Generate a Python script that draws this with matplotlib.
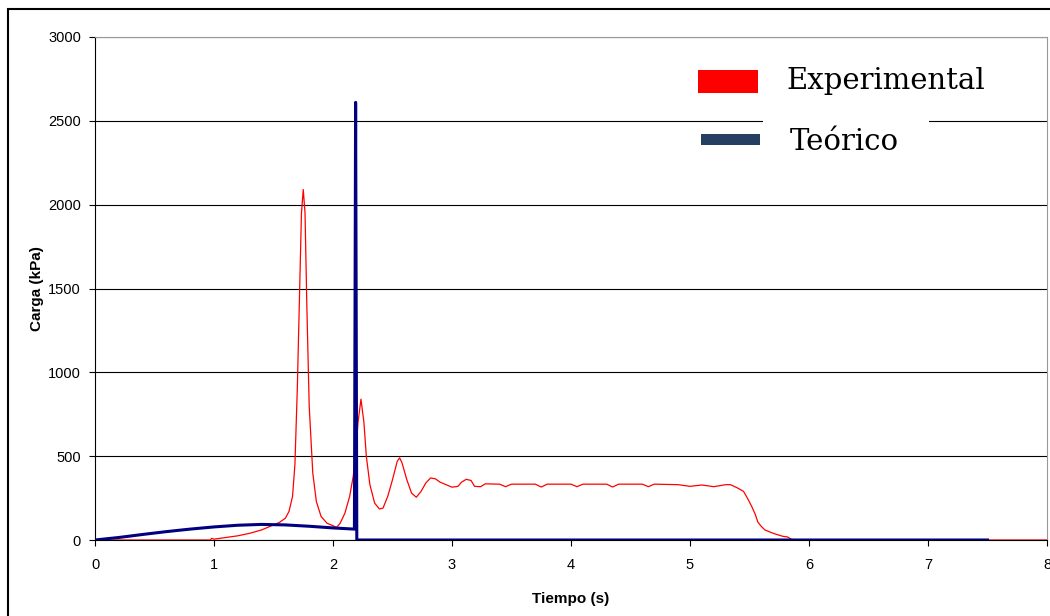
import matplotlib.pyplot as plt
import matplotlib.patches as mpatches

# Experimental (red)
t_exp = [0.0, 0.97, 0.98, 1.0, 1.05, 1.1, 1.2, 1.3, 1.4, 1.45, 1.5, 1.55, 1.6, 1.63, 1.66, 1.68,
         1.70, 1.72, 1.735, 1.75, 1.765, 1.78, 1.80, 1.83, 1.86, 1.9, 1.95, 2.0, 2.03, 2.06, 2.1,
         2.14, 2.17, 2.19, 2.21, 2.235, 2.26, 2.28, 2.31, 2.35, 2.39, 2.42, 2.46, 2.5, 2.54, 2.56,
         2.58, 2.62, 2.66, 2.70, 2.74, 2.78, 2.82, 2.86, 2.9, 2.95, 3.0, 3.05, 3.08, 3.12, 3.16,
         3.19, 3.24, 3.28, 3.4, 3.45, 3.5, 3.7, 3.75, 3.8, 4.0, 4.05, 4.1, 4.3, 4.35, 4.4, 4.6,
         4.65, 4.7, 4.9, 5.0, 5.1, 5.2, 5.3, 5.34, 5.40, 5.45, 5.49, 5.52, 5.55, 5.57, 5.6, 5.63,
         5.68, 5.72, 5.78, 5.82, 5.85, 5.88, 8.0]
v_exp = [0, 0, 10, 5, 10, 15, 25, 40, 60, 75, 90, 105, 130, 170, 260, 450,
         900, 1500, 1950, 2090, 1950, 1400, 800, 400, 230, 140, 100, 85, 75, 100, 160,
         260, 380, 500, 700, 840, 700, 500, 330, 220, 185, 190, 260, 360, 470, 490,
         460, 360, 280, 255, 290, 340, 370, 365, 345, 330, 315, 320, 345, 362, 355,
         320, 318, 335, 333, 318, 333, 333, 316, 333, 333, 318, 333, 333, 316, 333, 333,
         318, 333, 330, 320, 328, 318, 330, 330, 310, 290, 240, 198, 150, 107, 80, 60,
         45, 35, 22, 18, 5, 0, 0]

# Teórico (blue)
t_teo = [0.0, 0.2, 0.4, 0.6, 0.8, 1.0, 1.2, 1.4, 1.6, 1.8, 2.0, 2.18, 2.19, 2.2, 7.5]
v_teo = [0, 15, 33, 50, 65, 78, 88, 93, 90, 82, 72, 65, 2610, 0, 0]

plt.rcParams['font.family'] = ['Liberation Sans', 'DejaVu Sans']

fig = plt.figure(figsize=(10.5, 6.16), dpi=100)
ax = fig.add_axes([95 / 1050, 1 - 540 / 616, 952 / 1050, 503 / 616])

ax.plot(t_exp, v_exp, color='#ff0000', lw=0.9, zorder=3)
ax.plot(t_teo, v_teo, color='#000080', lw=2.2, zorder=4)

ax.set_xlim(0, 8)
ax.set_ylim(0, 3000)
ax.set_xticks(range(0, 9))
ax.set_yticks(range(0, 3001, 500))
ax.yaxis.grid(True, color='black', lw=0.8)
ax.set_axisbelow(True)
ax.tick_params(direction='out', length=4, width=0.8, labelsize=10.5, colors='black')
ax.tick_params(axis='x', pad=9)
ax.tick_params(axis='y', pad=6)
for s in ('top', 'right'):
    ax.spines[s].set_color('#999999')
for s in ('left', 'bottom'):
    ax.spines[s].set_color('black')

ax.set_xlabel('Tiempo (s)', fontsize=11, fontweight='bold', labelpad=14)
ax.set_ylabel('Carga (kPa)', fontsize=11, fontweight='bold', labelpad=3)

# legend drawn by hand
ax.add_patch(mpatches.Rectangle((0.7014, 0.80), 0.1744, 0.07, transform=ax.transAxes,
                                facecolor='white', edgecolor='none', zorder=2))
ax.add_patch(mpatches.Rectangle((0.6334, 0.8887), 0.063, 0.0457, transform=ax.transAxes,
                                facecolor='#ff0000', edgecolor='none', zorder=5))
ax.add_patch(mpatches.Rectangle((0.6366, 0.7853), 0.062, 0.0219, transform=ax.transAxes,
                                facecolor='#243f60', edgecolor='none', zorder=5))
ax.text(0.7258, 0.912, 'Experimental', transform=ax.transAxes, fontsize=21,
        family='DejaVu Serif', va='center', ha='left', zorder=5)
ax.text(0.7300, 0.792, 'Teórico', transform=ax.transAxes, fontsize=21,
        family='DejaVu Serif', va='center', ha='left', zorder=5)

# outer frame
fig.add_artist(mpatches.Rectangle((8 / 1050, -0.1), 1.0, 1.1 - 9 / 616,
                                  transform=fig.transFigure, fill=False,
                                  edgecolor='black', lw=1.5))

fig.savefig('out.png', dpi=100)
